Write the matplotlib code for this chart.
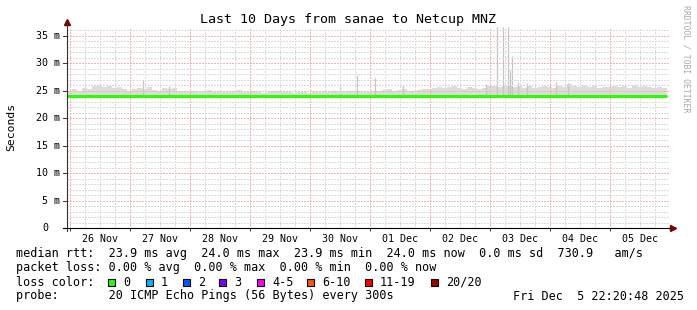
import numpy as np
import matplotlib
matplotlib.use('Agg')
import matplotlib.pyplot as plt
from matplotlib.patches import Rectangle
from matplotlib.transforms import blended_transform_factory

MONO = 'DejaVu Sans Mono'
W, H = 697, 310

# ---- data (ms), one value per 2 hour bin, 12 bins per day ----
day_labels = ['26 Nov', '27 Nov', '28 Nov', '29 Nov', '30 Nov',
              '01 Dec', '02 Dec', '03 Dec', '04 Dec', '05 Dec']

smoke_top = [
    25.0, 25.3, 25.0, 25.4, 25.2, 25.9, 26.0, 25.6, 25.8, 25.5, 25.7, 25.3,
    25.0, 25.2, 25.4, 25.3, 25.6, 25.1, 25.0, 25.5, 25.2, 25.4, 25.0, 24.9,
    24.8, 25.0, 24.7, 24.9, 25.1, 24.8, 24.9, 24.7, 24.8, 25.0, 25.1, 24.7,
    24.7, 24.9, 24.8, 24.6, 24.7, 24.9, 25.0, 24.7, 24.8, 24.6, 24.7, 24.8,
    24.6, 24.7, 24.8, 24.9, 24.7, 24.9, 24.8, 24.7, 24.9, 25.0, 25.0, 24.8,
    24.8, 25.0, 24.9, 25.1, 25.3, 25.0, 25.1, 25.3, 25.0, 24.9, 25.1, 25.2,
    25.2, 25.4, 25.6, 25.5, 25.7, 25.9, 25.5, 25.3, 25.6, 25.4, 25.2, 25.5,
    25.8, 25.9, 25.7, 26.0, 25.8, 25.6, 25.9, 25.5, 25.8, 25.4, 25.7, 25.8,
    25.7, 25.5, 25.9, 25.6, 26.1, 25.8, 25.7, 26.0, 25.6, 25.9, 25.5, 25.7,
    25.6, 25.8, 25.7, 25.9, 25.5, 26.0, 25.6, 25.8, 25.7, 25.5, 25.6, 25.5,
]
median_rtt = [24.0] * 72 + [
    24.0, 24.0, 24.0, 24.0, 23.95, 24.0, 24.0, 24.0, 24.0, 24.0, 23.95, 24.0,
    24.0, 24.0, 23.95, 24.0, 24.0, 24.0, 24.0, 23.95, 24.0, 24.0, 24.0, 24.0,
    24.0, 24.0, 24.0, 23.95, 24.0, 24.0, 24.0, 24.0, 23.95, 24.0, 24.0, 24.0,
    24.0, 24.0, 24.0, 24.0, 23.95, 24.0, 24.0, 24.0, 24.0, 24.0, 23.95, 24.0,
]
# single ping outliers (days since 26 Nov 00:00, ms)
spike_day = [1.22, 1.65, 4.50, 4.78, 5.08, 5.55, 6.93, 7.12, 7.22, 7.30, 7.33, 7.37, 7.47, 7.62, 8.10, 8.30]
spike_ms = [27.0, 25.9, 26.2, 27.8, 27.3, 26.0, 26.1, 36.5, 36.5, 36.5, 28.7, 31.3, 26.6, 26.3, 26.5, 26.4]

loss_labels = ['0', '1', '2', '3', '4-5', '6-10', '11-19', '20/20']
loss_colors = ['#26ff00', '#00b8ff', '#0059ff', '#7e00ff', '#ff00ff', '#ff5500', '#ff0000', '#a10000']

rtt_avg, rtt_max, rtt_min, rtt_now, rtt_sd, am_s = 23.9, 24.0, 23.9, 24.0, 0.0, 730.9
loss_avg, loss_max, loss_min, loss_now = 0.00, 0.00, 0.00, 0.00

t0 = -0.05  # first sample, in days
edges = t0 + np.arange(len(smoke_top) + 1) / 12
centers = edges[:-1] + 1 / 24

fig = plt.figure(figsize=(W / 100, H / 100), dpi=100, facecolor='white')
ax = fig.add_axes([67 / W, 1 - 228 / H, 602 / W, 201 / H])
ax.set_xlim(t0, 9.983)
ax.set_ylim(0, 36.55)
for s in ax.spines.values():
    s.set_visible(False)

# grid, dotted and crisp like rrdtool
for y in range(1, 37):
    ax.axhline(y, color='#f8b4b4' if y % 5 == 0 else '#dcdcdc', lw=1.0,
               ls=(0, (1, 1)), zorder=3, antialiased=False)
for k in range(40):
    x = k / 4
    ax.axvline(x, color='#f8b4b4' if k % 4 == 0 else '#dcdcdc', lw=1.0,
               ls=(0, (1, 1)), zorder=3, antialiased=False)

# smoke + median
ax.bar(centers, np.array(smoke_top) - np.array(median_rtt), bottom=median_rtt,
       width=1 / 12, color='#dcdcdc', lw=0, zorder=2)
ax.vlines(spike_day, 24.0, spike_ms, color='#c4c4c4', lw=0.9, zorder=2)
ax.plot(edges, np.append(median_rtt, median_rtt[-1]), drawstyle='steps-post',
        color='#26ff00', lw=2.2, zorder=4, solid_capstyle='butt')

# axes with arrows
ax.plot([0, 0], [-0.015, 1.02], transform=ax.transAxes, color='#333333', lw=0.8, clip_on=False, zorder=5)
ax.plot([-0.007, 1.0], [0, 0], transform=ax.transAxes, color='#000000', lw=0.8, clip_on=False, zorder=5)
ax.plot([0], [1.025], marker='^', ms=4, color='#7a0000', transform=ax.transAxes, clip_on=False)
ax.plot([1.006], [0], marker='>', ms=4, color='#7a0000', transform=ax.transAxes, clip_on=False)

ax.set_yticks([])
ax.set_xticks(np.arange(10) + 0.5)
ax.set_xticklabels(day_labels, family=MONO, fontsize=7.2)
ax.set_xticks(np.arange(10), minor=True)
ax.tick_params(axis='x', which='major', length=0, pad=4.6)
ax.tick_params(axis='x', which='minor', length=2, width=0.7, color='#333333')

tr = blended_transform_factory(fig.transFigure, ax.transData)
for v in range(0, 36, 5):
    if v == 0:
        fig.text(48 / W, v, '0', transform=tr, ha='right', va='center', family=MONO, fontsize=7.2)
    else:
        fig.text(60 / W, v, f'{v} m', transform=tr, ha='right', va='center', family=MONO, fontsize=7.2)
    ax.plot([-0.006, 0], [v, v], transform=blended_transform_factory(ax.transAxes, ax.transData),
            color='#333333', lw=0.7, clip_on=False)


def px(x, y):
    return x / W, 1 - y / H


fig.text(*px(348.5, 19), 'Last 10 Days from sanae to Netcup MNZ', ha='center', va='center',
         family=MONO, fontsize=9.6)
fig.text(*px(11, 127), 'Seconds', rotation=90, ha='center', va='center', family=MONO, fontsize=8.2)
fig.text(*px(686, 59), 'RRDTOOL / TOBI OETIKER', rotation=-90, ha='center', va='center',
         family=MONO, fontsize=5.9, color='#a8a8a8')

fs = 8.5
fig.text(*px(16, 254), f'median rtt:  {rtt_avg:.1f} ms avg  {rtt_max:.1f} ms max  {rtt_min:.1f} ms min  '
         f'{rtt_now:.1f} ms now  {rtt_sd:.1f} ms sd  {am_s:.1f}   am/s', va='center', family=MONO, fontsize=fs)
fig.text(*px(16, 268), f'packet loss: {loss_avg:.2f} % avg  {loss_max:.2f} % max  {loss_min:.2f} % min  '
         f'{loss_now:.2f} % now', va='center', family=MONO, fontsize=fs)
fig.text(*px(16, 282), 'loss color:', va='center', family=MONO, fontsize=fs)
box_x = [108, 146, 183, 219, 257, 307, 365, 431]
for bx, lab, c in zip(box_x, loss_labels, loss_colors):
    fig.add_artist(Rectangle(px(bx, 286), 7 / W, 7 / H, transform=fig.transFigure,
                             facecolor=c, edgecolor='black', lw=0.8))
    fig.text(*px(bx + 15, 282), lab, va='center', family=MONO, fontsize=fs)
fig.text(*px(16, 296), 'probe:       20 ICMP Echo Pings (56 Bytes) every 300s', va='center',
         family=MONO, fontsize=fs)
fig.text(*px(513, 296), 'Fri Dec  5 22:20:48 2025', va='center', family=MONO, fontsize=fs)

fig.savefig('out.png', dpi=100, facecolor='white')
